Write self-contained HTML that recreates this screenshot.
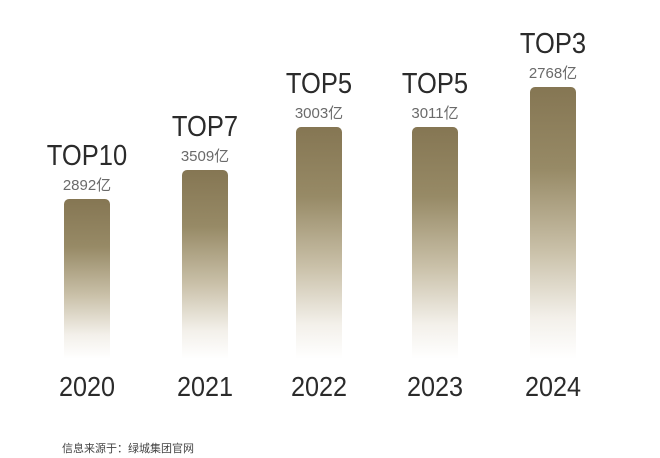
<!DOCTYPE html>
<html><head><meta charset="utf-8"><style>
body{margin:0;width:660px;height:458px;background:#fff;position:relative;overflow:hidden;font-family:"Liberation Sans","Noto Sans CJK SC",sans-serif;}
.bar{position:absolute;width:46px;border-radius:5px 5px 0 0;background:linear-gradient(#857653 0%,#978a66 30%,#c9c0a8 60%,#f3f0ea 85%,#fff 100%);}
.t{position:absolute;width:140px;text-align:center;color:#2b2b2b;}
.top{font-size:29px;transform:scaleX(0.88);}
.v{font-size:15px;color:#6a6a6a;}
.y{font-size:28px;color:#2b2b2b;transform:scaleX(0.9);}
</style></head><body>
<div class="bar" style="left:64px;top:199px;height:160px"></div>
<div class="bar" style="left:182px;top:170px;height:189px"></div>
<div class="bar" style="left:296px;top:127px;height:232px"></div>
<div class="bar" style="left:412px;top:127px;height:232px"></div>
<div class="bar" style="left:530px;top:87px;height:272px"></div>

<div class="t top" style="left:17px;top:140px">TOP10</div>
<div class="t v" style="left:17px;top:174px">2892亿</div>
<div class="t top" style="left:135px;top:111px">TOP7</div>
<div class="t v" style="left:135px;top:145px">3509亿</div>
<div class="t top" style="left:249px;top:68px">TOP5</div>
<div class="t v" style="left:249px;top:102px">3003亿</div>
<div class="t top" style="left:365px;top:68px">TOP5</div>
<div class="t v" style="left:365px;top:102px">3011亿</div>
<div class="t top" style="left:483px;top:28px">TOP3</div>
<div class="t v" style="left:483px;top:62px">2768亿</div>

<div class="t y" style="left:17px;top:371px">2020</div>
<div class="t y" style="left:135px;top:371px">2021</div>
<div class="t y" style="left:249px;top:371px">2022</div>
<div class="t y" style="left:365px;top:371px">2023</div>
<div class="t y" style="left:483px;top:371px">2024</div>

<div style="position:absolute;left:62px;top:440px;font-size:11px;color:#444">信息来源于：绿城集团官网</div>
</body></html>
